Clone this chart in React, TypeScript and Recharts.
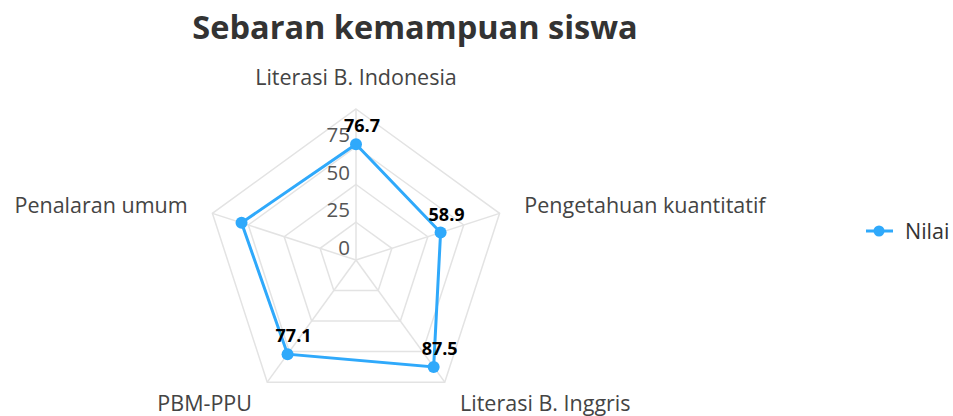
import { RadarChart, Radar, PolarGrid, PolarAngleAxis, PolarRadiusAxis, Legend, LabelList } from 'recharts';

const subjects = ['Literasi B. Indonesia', 'Pengetahuan kuantitatif', 'Literasi B. Inggris', 'PBM-PPU', 'Penalaran umum'];
const scores = [76.7, 58.9, 87.5, 77.1, 79.7];
const showLabel = [true, true, true, true, false];
const radiusTicks = [0, 25, 50, 75, 100];

const data = subjects.map((s, i) => ({ subject: s, value: scores[i], show: showLabel[i] }));

const CX = 356;
const CY = 260;
const R = 151;
const COLOR = '#2fa9fb';
const FONT = '"Open Sans", sans-serif';

const AngleTick = (props: any) => {
  const a = (props.payload.coordinate * Math.PI) / 180;
  const c = Math.cos(a);
  const anchor = c > 0.1 ? 'start' : c < -0.1 ? 'end' : 'middle';
  const r2 = anchor === 'middle' ? R + 32 : R + 26;
  const x = CX + r2 * c;
  const y = CY - r2 * Math.sin(a) - 1;
  return (
    <text x={x} y={y} textAnchor={anchor} dominantBaseline="central" fill="#444" fontSize={21.5} fontFamily={FONT}>
      {props.payload.value}
    </text>
  );
};

// hide the outer 100 label like the original
const RadiusTick = (props: any) => {
  if (props.payload.value === 100) return null;
  return (
    <text x={props.x - 6} y={props.y - 5} textAnchor="end" fill="#555" fontSize={20.5} fontFamily={FONT}>
      {props.payload.value}
    </text>
  );
};

const ValueLabel = (props: any) => {
  const { x, y, value, index } = props;
  if (!data[index]?.show) return null;
  return (
    <text x={x + 6} y={y - 19} textAnchor="middle" dominantBaseline="central" fill="#000" fontSize={18} fontWeight="bold" fontFamily={FONT}>
      {value}
    </text>
  );
};

const Dot = (props: any) => <circle key={props.index} cx={props.cx} cy={props.cy} r={6} fill={COLOR} />;

const LegendContent = () => (
  <div style={{ display: 'flex', alignItems: 'center', fontFamily: FONT, fontSize: 21.5, color: '#333' }}>
    <svg width={30} height={16}>
      <line x1={1} y1={8} x2={28} y2={8} stroke={COLOR} strokeWidth={3} />
      <circle cx={14} cy={8} r={5.5} fill={COLOR} />
    </svg>
    <span style={{ marginLeft: 10 }}>Nilai</span>
  </div>
);

export default function App() {
  return (
    <div style={{ position: 'absolute', left: 0, top: 0, width: 953, height: 416, background: '#fff' }}>
      <div
        style={{
          position: 'absolute',
          left: 0,
          width: 830,
          top: 4,
          textAlign: 'center',
          fontFamily: FONT,
          fontWeight: 700,
          fontSize: 32.5,
          color: '#333',
        }}
      >
        Sebaran kemampuan siswa
      </div>
      <RadarChart width={953} height={416} cx={CX} cy={CY} outerRadius={R} data={data}>
        <PolarGrid gridType="polygon" stroke="#e3e3e3" strokeWidth={1.5} />
        <PolarAngleAxis dataKey="subject" tick={<AngleTick />} axisLine={false} tickLine={false} />
        <PolarRadiusAxis
          angle={90}
          domain={[0, 100]}
          ticks={radiusTicks}
          tickCount={5}
          axisLine={false}
          tickLine={false}
          tick={<RadiusTick />}
        />
        <Radar
          name="Nilai"
          dataKey="value"
          stroke={COLOR}
          strokeWidth={3}
          fill="none"
          fillOpacity={0}
          dot={<Dot />}
          isAnimationActive={false}
        >
          <LabelList dataKey="value" content={<ValueLabel />} />
        </Radar>
        <Legend content={<LegendContent />} wrapperStyle={{ position: 'absolute', left: 865, top: 216, width: 90 }} />
      </RadarChart>
    </div>
  );
}
